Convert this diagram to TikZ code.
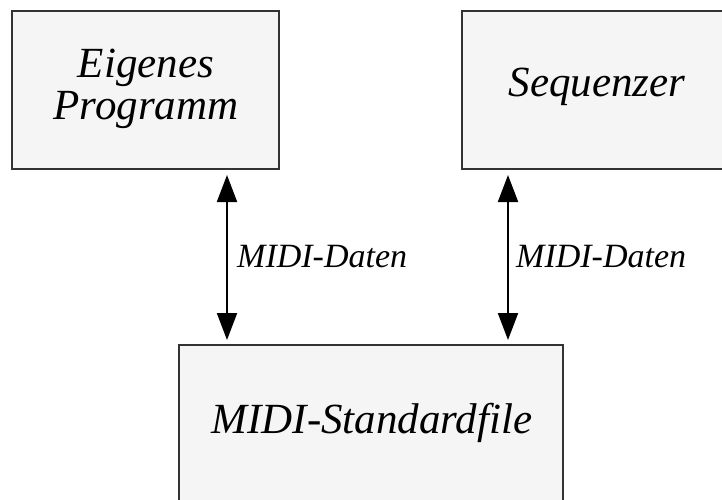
\documentclass[tikz,border=0pt]{standalone}
\usepackage{fontspec}
\setmainfont{Liberation Serif}
\usetikzlibrary{arrows.meta}
\definecolor{boxfill}{HTML}{F5F5F5}
\definecolor{boxline}{HTML}{333333}
\tikzset{
  box/.style={draw=boxline, line width=1.2pt, fill=boxfill, inner sep=0pt},
  boxtext/.style={font=\fontsize{43}{42}\selectfont\itshape, align=center, inner sep=0pt, anchor=base},
  lbl/.style={font=\fontsize{34}{36}\selectfont\itshape, anchor=west, inner sep=0pt},
  link/.style={line width=2pt, {Triangle[width=20pt,length=27pt]}-{Triangle[width=20pt,length=27pt]}}
}
\begin{document}
\begin{tikzpicture}[x=1pt,y=-1pt]
\useasboundingbox (0,0) rectangle (722,500);
\begin{scope}
\clip (0,0) rectangle (722,500);
\node[box, minimum width=267pt, minimum height=158pt] (prog) at (145.5,90) {};
\node[box, minimum width=266pt, minimum height=158pt] (seq) at (595,90) {};
\node[box, minimum width=384pt, minimum height=165pt] (smf) at (371,427.5) {};
\end{scope}
\node[boxtext] (progt) at (146,120) {Eigenes\\Programm};
\node[boxtext] (seqt) at (597,97) {Sequenzer};
\node[boxtext] (smft) at (372,433) {MIDI-Standardfile};
\coordinate (a1) at (227,175);
\coordinate (a2) at (227,340);
\coordinate (b1) at (508,175);
\coordinate (b2) at (508,340);
\draw[link] (a1) -- (a2);
\draw[link] (b1) -- (b2);
\node[lbl] (l1) at (237,257) {MIDI-Daten};
\node[lbl] (l2) at (516,257) {MIDI-Daten};
\end{tikzpicture}
\end{document}
